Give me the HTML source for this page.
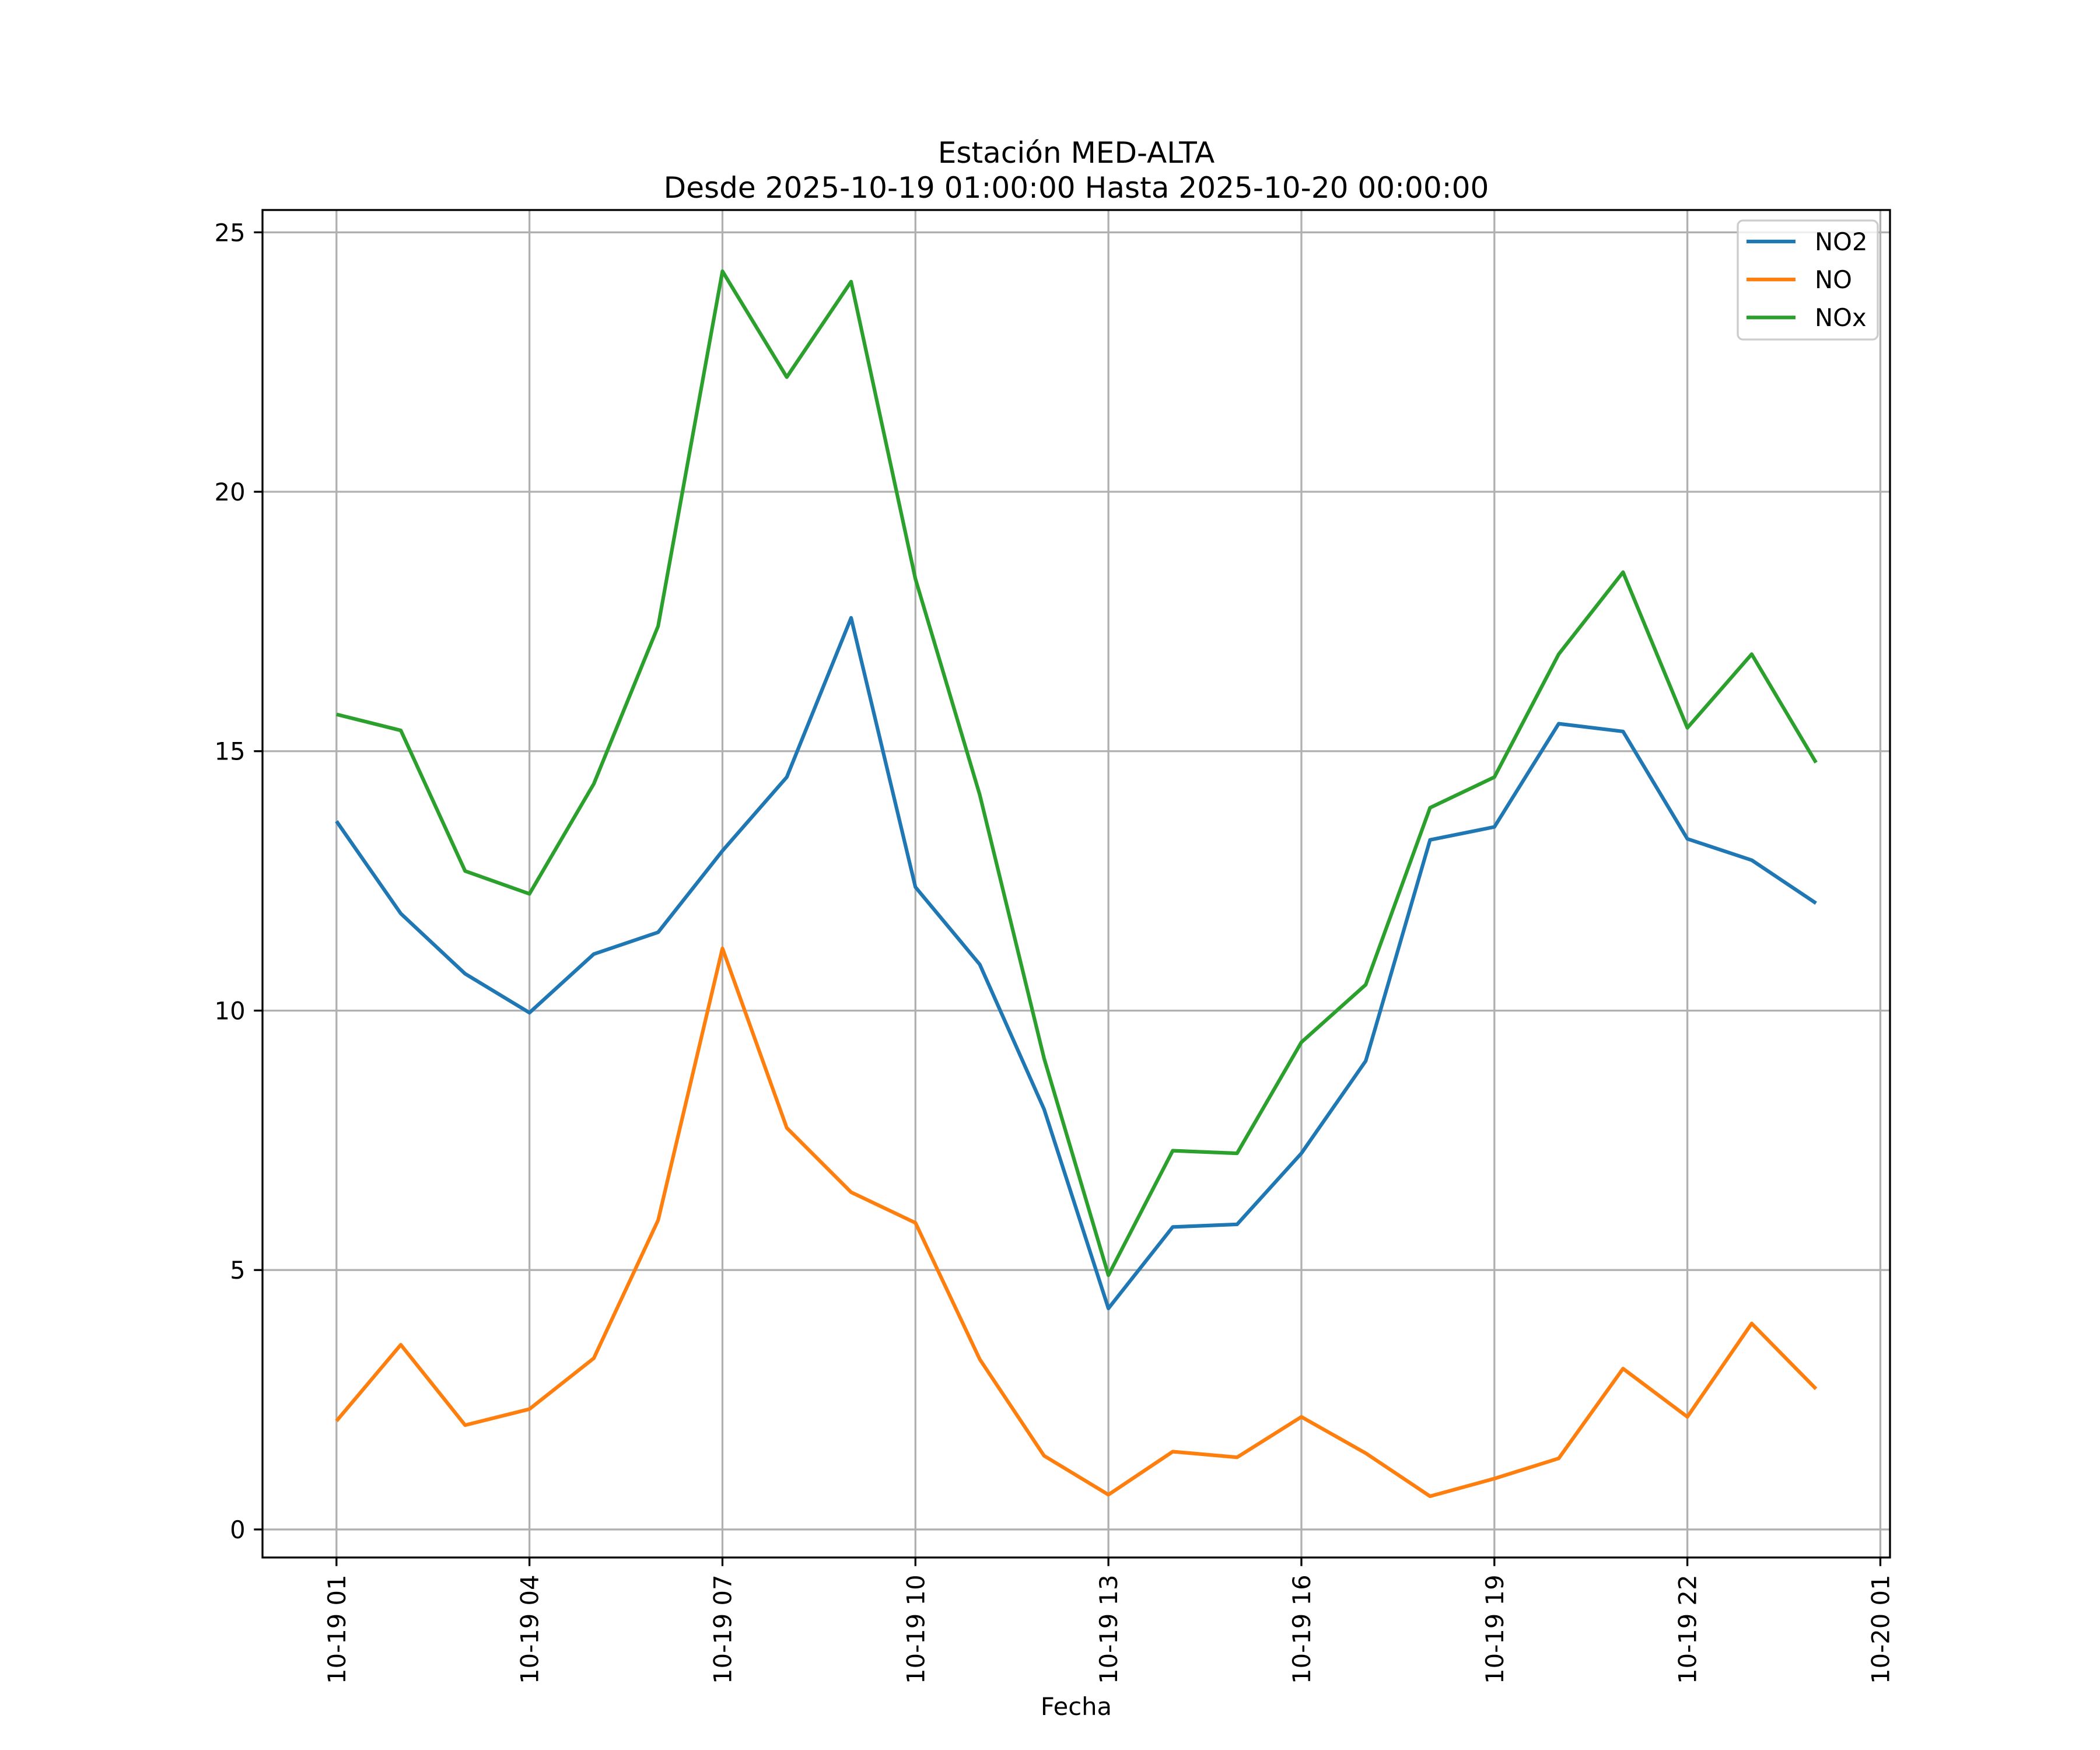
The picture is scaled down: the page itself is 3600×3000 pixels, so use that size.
<!DOCTYPE html>
<html><head><meta charset="utf-8">
<style>html,body{margin:0;padding:0;background:#fff}svg{display:block}text{font-family:"DejaVu Sans","Liberation Sans",sans-serif;fill:#000}</style>
</head><body>
<svg id="chart" width="3600" height="3000" viewBox="0 0 1200 1000" xmlns="http://www.w3.org/2000/svg">
<rect width="1200" height="1000" fill="#fff"/>
<text x="615" y="93" font-size="16.7" text-anchor="middle">Estación MED-ALTA</text>
<text x="615" y="113" font-size="16.7" text-anchor="middle">Desde 2025-10-19 01:00:00 Hasta 2025-10-20 00:00:00</text>
<g id="grid"></g>
<g id="series"></g>
<rect x="150" y="120" width="930" height="770" fill="none" stroke="#000" stroke-width="1.1"/>
<g id="ticks"></g>
<text x="615" y="980" font-size="13.9" text-anchor="middle">Fecha</text>
<g id="legend"></g>
</svg>
<script>
const hours = [1,2,3,4,5,6,7,8,9,10,11,12,13,14,15,16,17,18,19,20,21,22,23,24];
const no2 = [13.65,11.87,10.71,9.96,11.09,11.51,13.08,14.50,17.57,12.38,10.89,8.10,4.26,5.83,5.88,7.25,9.03,13.29,13.54,15.53,15.38,13.31,12.90,12.07];
const no = [2.09,3.56,2.01,2.32,3.30,5.96,11.20,7.74,6.50,5.91,3.28,1.42,0.67,1.50,1.39,2.17,1.47,0.64,0.98,1.37,3.10,2.17,3.97,2.71];
const nox = [15.71,15.40,12.69,12.25,14.37,17.41,24.25,22.21,24.05,18.32,14.16,9.08,4.90,7.30,7.25,9.39,10.50,13.91,14.50,16.87,18.45,15.45,16.87,14.78];
const xTickHours = [1,4,7,10,13,16,19,22,25];
const xTickLabels = ["10-19 01","10-19 04","10-19 07","10-19 10","10-19 13","10-19 16","10-19 19","10-19 22","10-20 01"];
const yTicks = [0,5,10,15,20,25];
const seriesNames = ["NO2","NO","NOx"];
const seriesColors = ["#1f77b4","#ff7f0e","#2ca02c"];

const NS="http://www.w3.org/2000/svg";
const L=150,R=1080,T=120,B=890;
const all=no2.concat(no,nox);
const xmin0=Math.min(...hours),xmax0=Math.max(...hours),xm=(xmax0-xmin0)*0.05;
const ymin0=Math.min(...all),ymax0=Math.max(...all),ym=(ymax0-ymin0)*0.05;
const x0=xmin0-xm,x1=xmax0+xm,y0=ymin0-ym,y1=ymax0+ym;
const sx=v=>L+(v-x0)/(x1-x0)*(R-L);
const sy=v=>B-(v-y0)/(y1-y0)*(B-T);
function mk(tag,attrs,parent){const e=document.createElementNS(NS,tag);for(const k in attrs)e.setAttribute(k,attrs[k]);parent.appendChild(e);return e;}
const grid=document.getElementById('grid'),ticks=document.getElementById('ticks'),ser=document.getElementById('series'),leg=document.getElementById('legend');
xTickHours.forEach((h,i)=>{const x=sx(h);
 const g=mk('line',{x1:x,x2:x,y1:T,y2:B,stroke:'#b0b0b0','stroke-width':1.1},grid);
 
 const t=mk('line',{x1:x,x2:x,y1:B,y2:B+4.9,stroke:'#000','stroke-width':1.1},ticks);
 
 const tx=mk('text',{x:0,y:0,'font-size':13.9,'text-anchor':'end',transform:`translate(${x+5},${B+9.8}) rotate(-90)`},ticks);
 tx.textContent=xTickLabels[i];
 
});
yTicks.forEach(v=>{const y=sy(v);
 const g=mk('line',{x1:L,x2:R,y1:y,y2:y,stroke:'#b0b0b0','stroke-width':1.1},grid);
 
 const t=mk('line',{x1:L-4.9,x2:L,y1:y,y2:y,stroke:'#000','stroke-width':1.1},ticks);
 
 const tx=mk('text',{x:L-9.8,y:y+5,'font-size':13.9,'text-anchor':'end'},ticks);
 tx.textContent=String(v);
 
});
[no2,no,nox].forEach((d,i)=>{
 const p=mk('polyline',{points:d.map((v,j)=>sx(hours[j])+','+sy(v)).join(' '),fill:'none',stroke:seriesColors[i],'stroke-width':2.08,'stroke-linejoin':'round'},ser);
 
});
const box=mk('rect',{x:993,y:126,width:80,height:68,rx:3,fill:'#fff','fill-opacity':0.8,stroke:'#ccc','stroke-width':1.1},leg);

seriesNames.forEach((n,i)=>{const y=138+i*21.7;
 const l=mk('line',{x1:998,x2:1026,y1:y,y2:y,stroke:seriesColors[i],'stroke-width':2.08},leg);
 
 const t=mk('text',{x:1037,y:y+5,'font-size':13.9},leg);t.textContent=n;
 
});
</script>
</body></html>
